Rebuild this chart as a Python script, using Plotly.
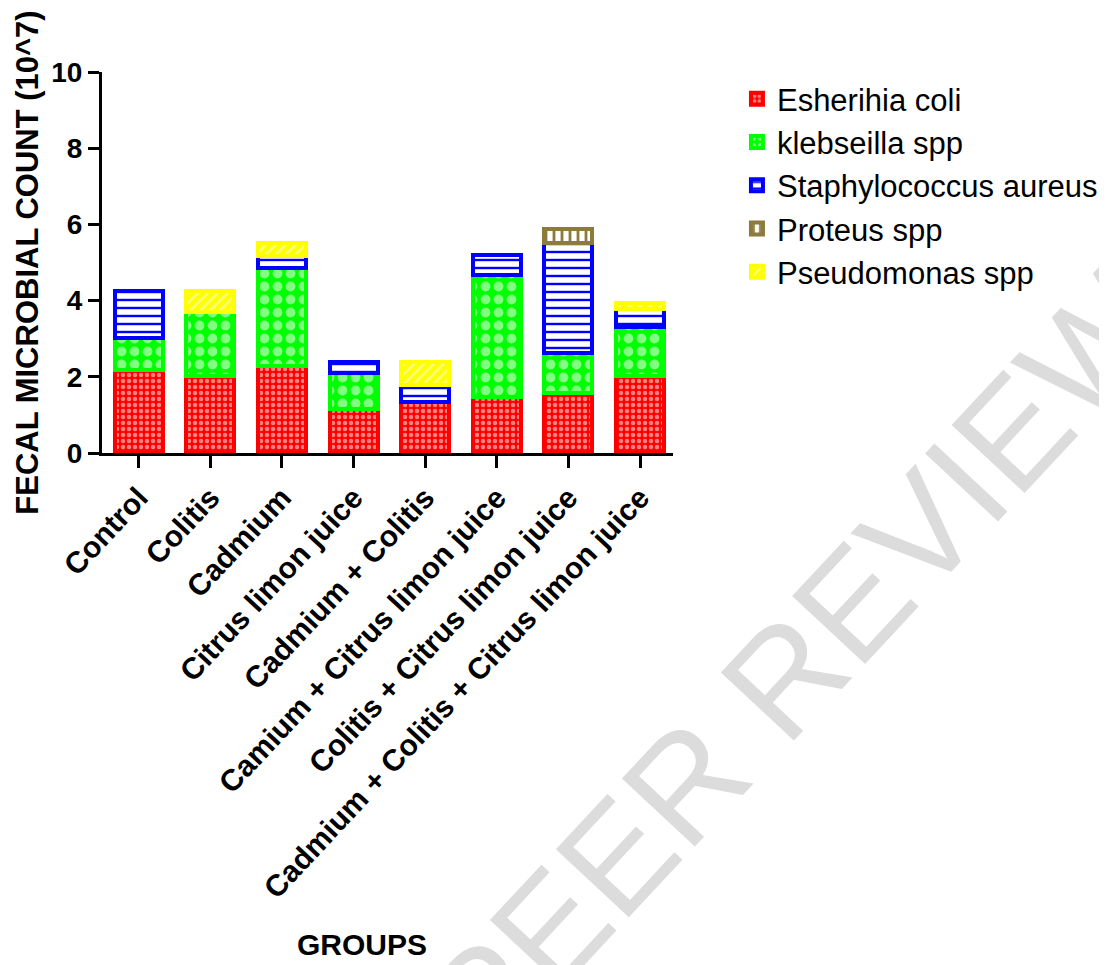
import plotly.graph_objects as go

groups = ["Control", "Colitis", "Cadmium", "Citrus limon juice", "Cadmium + Colitis",
          "Camium + Citrus limon juice", "Colitis + Citrus limon juice",
          "Cadmium + Colitis + Citrus limon juice"]

e_coli = [2.18, 2.02, 2.29, 1.15, 1.33, 1.46, 1.57, 2.02]
klebsiella = [0.83, 1.67, 2.56, 0.95, 0.0, 3.21, 1.05, 1.28]
staph = [1.25, 0.0, 0.33, 0.28, 0.46, 0.52, 2.88, 0.47]
proteus = [0.0, 0.0, 0.0, 0.0, 0.0, 0.0, 0.37, 0.0]
pseudomonas = [0.0, 0.57, 0.32, 0.0, 0.59, 0.0, 0.0, 0.16]

series_names = ["Esherihia coli", "klebseilla spp", "Staphylococcus aureus",
                "Proteus spp", "Pseudomonas spp"]
yticks = [0, 2, 4, 6, 8, 10]

FONT = "Liberation Sans, Arial, sans-serif"

styles = [
    dict(color="#ff0000", pattern=dict(shape=".", fgcolor="white", size=6, solidity=0.45, fillmode="overlay")),
    dict(color="#00ff00", pattern=dict(shape=".", fgcolor="white", size=13, solidity=0.45, fillmode="overlay")),
    dict(color="#0000ff", pattern=dict(shape="-", fgcolor="#0000ff", bgcolor="white", size=8, solidity=0.3, fillmode="replace")),
    dict(color="#8c7b3c", pattern=dict(shape="|", fgcolor="#8c7b3c", bgcolor="white", size=8, solidity=0.35, fillmode="replace")),
    dict(color="#ffff00", pattern=dict(shape="/", fgcolor="white", size=7, solidity=0.35, fillmode="overlay")),
]

fig = go.Figure()
for name, vals, st in zip(series_names, [e_coli, klebsiella, staph, proteus, pseudomonas], styles):
    yv = [v if v > 0 else None for v in vals]
    fig.add_trace(go.Bar(
        x=groups, y=yv, name=name, width=0.67,
        marker=dict(color=st["color"], pattern=st["pattern"],
                    line=dict(color=st["color"], width=4)),
    ))

fig.update_layout(
    barmode="stack",
    width=1107, height=965,
    margin=dict(l=94, r=442, t=64, b=520, autoexpand=False),
    plot_bgcolor="white", paper_bgcolor="white",
    font=dict(family=FONT, color="black"),
    showlegend=True,
    legend=dict(x=1.112, y=1.0, xanchor="left", yanchor="top", traceorder="normal",
                font=dict(family=FONT, size=31, color="black"), bgcolor="rgba(0,0,0,0)"),
    xaxis=dict(range=[-0.513, 7.46], showline=True, linewidth=3, linecolor="black",
               ticks="outside", ticklen=12, tickwidth=3, tickcolor="black", automargin=False,
               tickangle=-47, tickfont=dict(family=FONT, size=30, color="black", weight="bold"),
               showgrid=False, zeroline=False),
    yaxis=dict(range=[0, 10], tickvals=yticks, showline=True, linewidth=3, linecolor="black",
               ticks="outside", ticklen=11, tickwidth=3, tickcolor="black", automargin=False,
               tickfont=dict(family=FONT, size=28, color="black", weight="bold"),
               showgrid=False, zeroline=False),
    annotations=[
        dict(text="PEER REVIEW", xref="paper", yref="paper", x=1.215, y=-0.556,
             xanchor="center", yanchor="middle", textangle=-47, showarrow=False,
             font=dict(family=FONT, size=145, color="#dcdcdc")),
        dict(text="FECAL MICROBIAL COUNT (10^7)", xref="paper", yref="paper",
             x=-0.131, y=0.5, xanchor="center", yanchor="middle", textangle=-90,
             showarrow=False, font=dict(family=FONT, size=31, color="black", weight="bold")),
        dict(text="GROUPS", xref="paper", yref="paper", x=0.455, y=-1.291,
             xanchor="center", yanchor="middle", showarrow=False,
             font=dict(family=FONT, size=30, color="black", weight="bold")),
    ],
)

fig.write_html("out.html")
